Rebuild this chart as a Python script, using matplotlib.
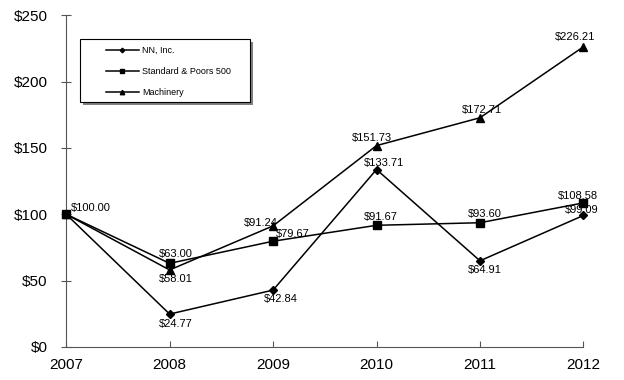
import matplotlib.pyplot as plt
from matplotlib.lines import Line2D
from matplotlib.patches import Rectangle

plt.rcParams["font.family"] = ["Liberation Sans", "DejaVu Sans"]

# Data
years = [2007, 2008, 2009, 2010, 2011, 2012]
nn_inc = [100.00, 24.77, 42.84, 133.71, 64.91, 99.09]
sp500 = [100.00, 63.00, 79.67, 91.67, 93.60, 108.58]
machinery = [100.00, 58.01, 91.24, 151.73, 172.71, 226.21]
series_names = ["NN, Inc.", "Standard & Poors 500", "Machinery"]

# label offsets in pixels (label centre relative to the point)
nn_offsets = [None, (6.6, -10), (8, -9), (7, 7), (5, -9), (-2, 5)]
sp_offsets = [(24.5, 6), (6.6, 9), (20, 7), (4, 8), (5, 9), (-6, 7)]
mach_offsets = [None, (6.6, -9), (-12, 2.5), (-5, 7.5), (1.5, 7.5), (-8.5, 10)]

fig, ax = plt.subplots(figsize=(6.24, 3.8), dpi=100)
fig.subplots_adjust(left=0.106, right=0.935, top=0.96, bottom=0.087)

ax.plot(years, nn_inc, color="black", lw=1.1, marker="D", ms=4, zorder=3)
ax.plot(years, sp500, color="black", lw=1.1, marker="s", ms=5.5, zorder=3)
ax.plot(years, machinery, color="black", lw=1.1, marker="^", ms=5.5, zorder=3)

for vals, offs in [(nn_inc, nn_offsets), (sp500, sp_offsets), (machinery, mach_offsets)]:
    for x, y, o in zip(years, vals, offs):
        if o is None:
            continue
        ax.annotate(f"${y:.2f}", (x, y), xytext=o, textcoords="offset pixels",
                    ha="center", va="center", fontsize=8, zorder=4)

ax.set_xlim(2007, 2012)
ax.set_ylim(0, 250)
ax.set_xticks(years)
ax.set_yticks([0, 50, 100, 150, 200, 250])
ax.set_yticklabels([f"${v}" for v in [0, 50, 100, 150, 200, 250]])
ax.tick_params(axis="both", labelsize=11, width=0.8, color="#555555")
ax.tick_params(axis="y", direction="inout", length=7, pad=10)
ax.tick_params(axis="x", direction="in", length=4, pad=8)
ax.spines["top"].set_visible(False)
ax.spines["right"].set_visible(False)
for s in ["left", "bottom"]:
    ax.spines[s].set_color("#555555")
    ax.spines[s].set_linewidth(0.8)
for ln in ax.lines:
    ln.set_clip_on(False)

# legend box with drop shadow
fx0, fx1, fy0, fy1 = 80 / 624, 250 / 624, 1 - 102 / 380, 1 - 39 / 380
fig.patches.append(Rectangle((fx0 + 3 / 624, fy0 - 3 / 380), fx1 - fx0, fy1 - fy0,
                             transform=fig.transFigure, facecolor="#808080",
                             edgecolor="none", zorder=5))
fig.patches.append(Rectangle((fx0, fy0), fx1 - fx0, fy1 - fy0, transform=fig.transFigure,
                             facecolor="white", edgecolor="black", lw=0.8, zorder=6))

handles = [
    Line2D([], [], color="black", lw=1.1, marker="D", ms=2.3),
    Line2D([], [], color="black", lw=1.1, marker="s", ms=3.5),
    Line2D([], [], color="black", lw=1.1, marker="^", ms=3.2),
]
leg = fig.legend(handles, series_names, loc="upper left",
                 bbox_to_anchor=(106 / 624, 1 - 46 / 380), fontsize=6.5, frameon=False,
                 handlelength=3.6, labelspacing=1.35, borderpad=0, handletextpad=0.4,
                 borderaxespad=0)
leg.set_zorder(7)

plt.savefig("out.png", dpi=100)
